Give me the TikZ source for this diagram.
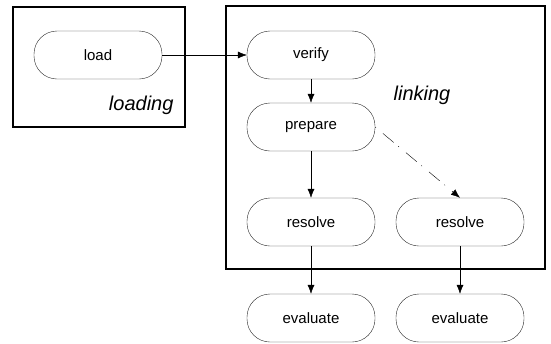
\documentclass[tikz,border=0pt]{standalone}
\usepackage{fontspec}
\setmainfont{Liberation Sans}
\usetikzlibrary{arrows.meta}
\tikzset{every node/.style={font=\fontsize{15}{18}\selectfont}}
\colorlet{boxcol}{black}
\colorlet{phasecol}{black!85!white}
\colorlet{arrowcol}{black}
\tikzset{
  phase/.style={draw=phasecol, thin, rounded corners=23pt,
    minimum width=128pt, minimum height=48pt, inner sep=0pt},
  stagelabel/.style={font=\itshape\fontsize{20}{24}\selectfont},
}

\begin{document}
\begin{tikzpicture}[x=1pt, y=-1pt, >={Latex[length=9pt, width=7pt]}]
  \useasboundingbox (0,0) rectangle (551,343);

  % Stage boxes.
  \draw[line width=1.6pt, boxcol] (13,7) rectangle (185,127);
  \draw[line width=1.6pt, boxcol] (226,6) rectangle (545,269);

  % Stage labels.
  \node[stagelabel, anchor=east] (loadlbl) at (177,105) {loading};
  \node[stagelabel] (linklbl) at (422,95) {linking};

  % Phases.
  \node[phase] (load)     at (98,55)   {load};
  \node[phase] (verify)   at (311,55)  {verify};
  \node[phase] (prepare)  at (311,127) {prepare};
  \node[phase] (resolveA) at (311,222) {resolve};
  \node[phase] (resolveB) at (460,222) {resolve};
  \node[phase] (evalA)    at (311,318) {evaluate};
  \node[phase] (evalB)    at (460,318) {evaluate};

  % Transitions.
  \draw[->, arrowcol] (load) -- (verify);
  \draw[->, arrowcol] (verify) -- (prepare);
  \draw[->, arrowcol] (prepare) -- (resolveA);
  \draw[->, arrowcol] (resolveA) -- (evalA);
  \draw[->, arrowcol] (resolveB) -- (evalB);

  % Lazy resolution (dash-dot).
  \draw[->, arrowcol, dash pattern=on 1pt off 9pt on 14pt off 6pt]
    (prepare.east) -- (resolveB.north);

\end{tikzpicture}
\end{document}
